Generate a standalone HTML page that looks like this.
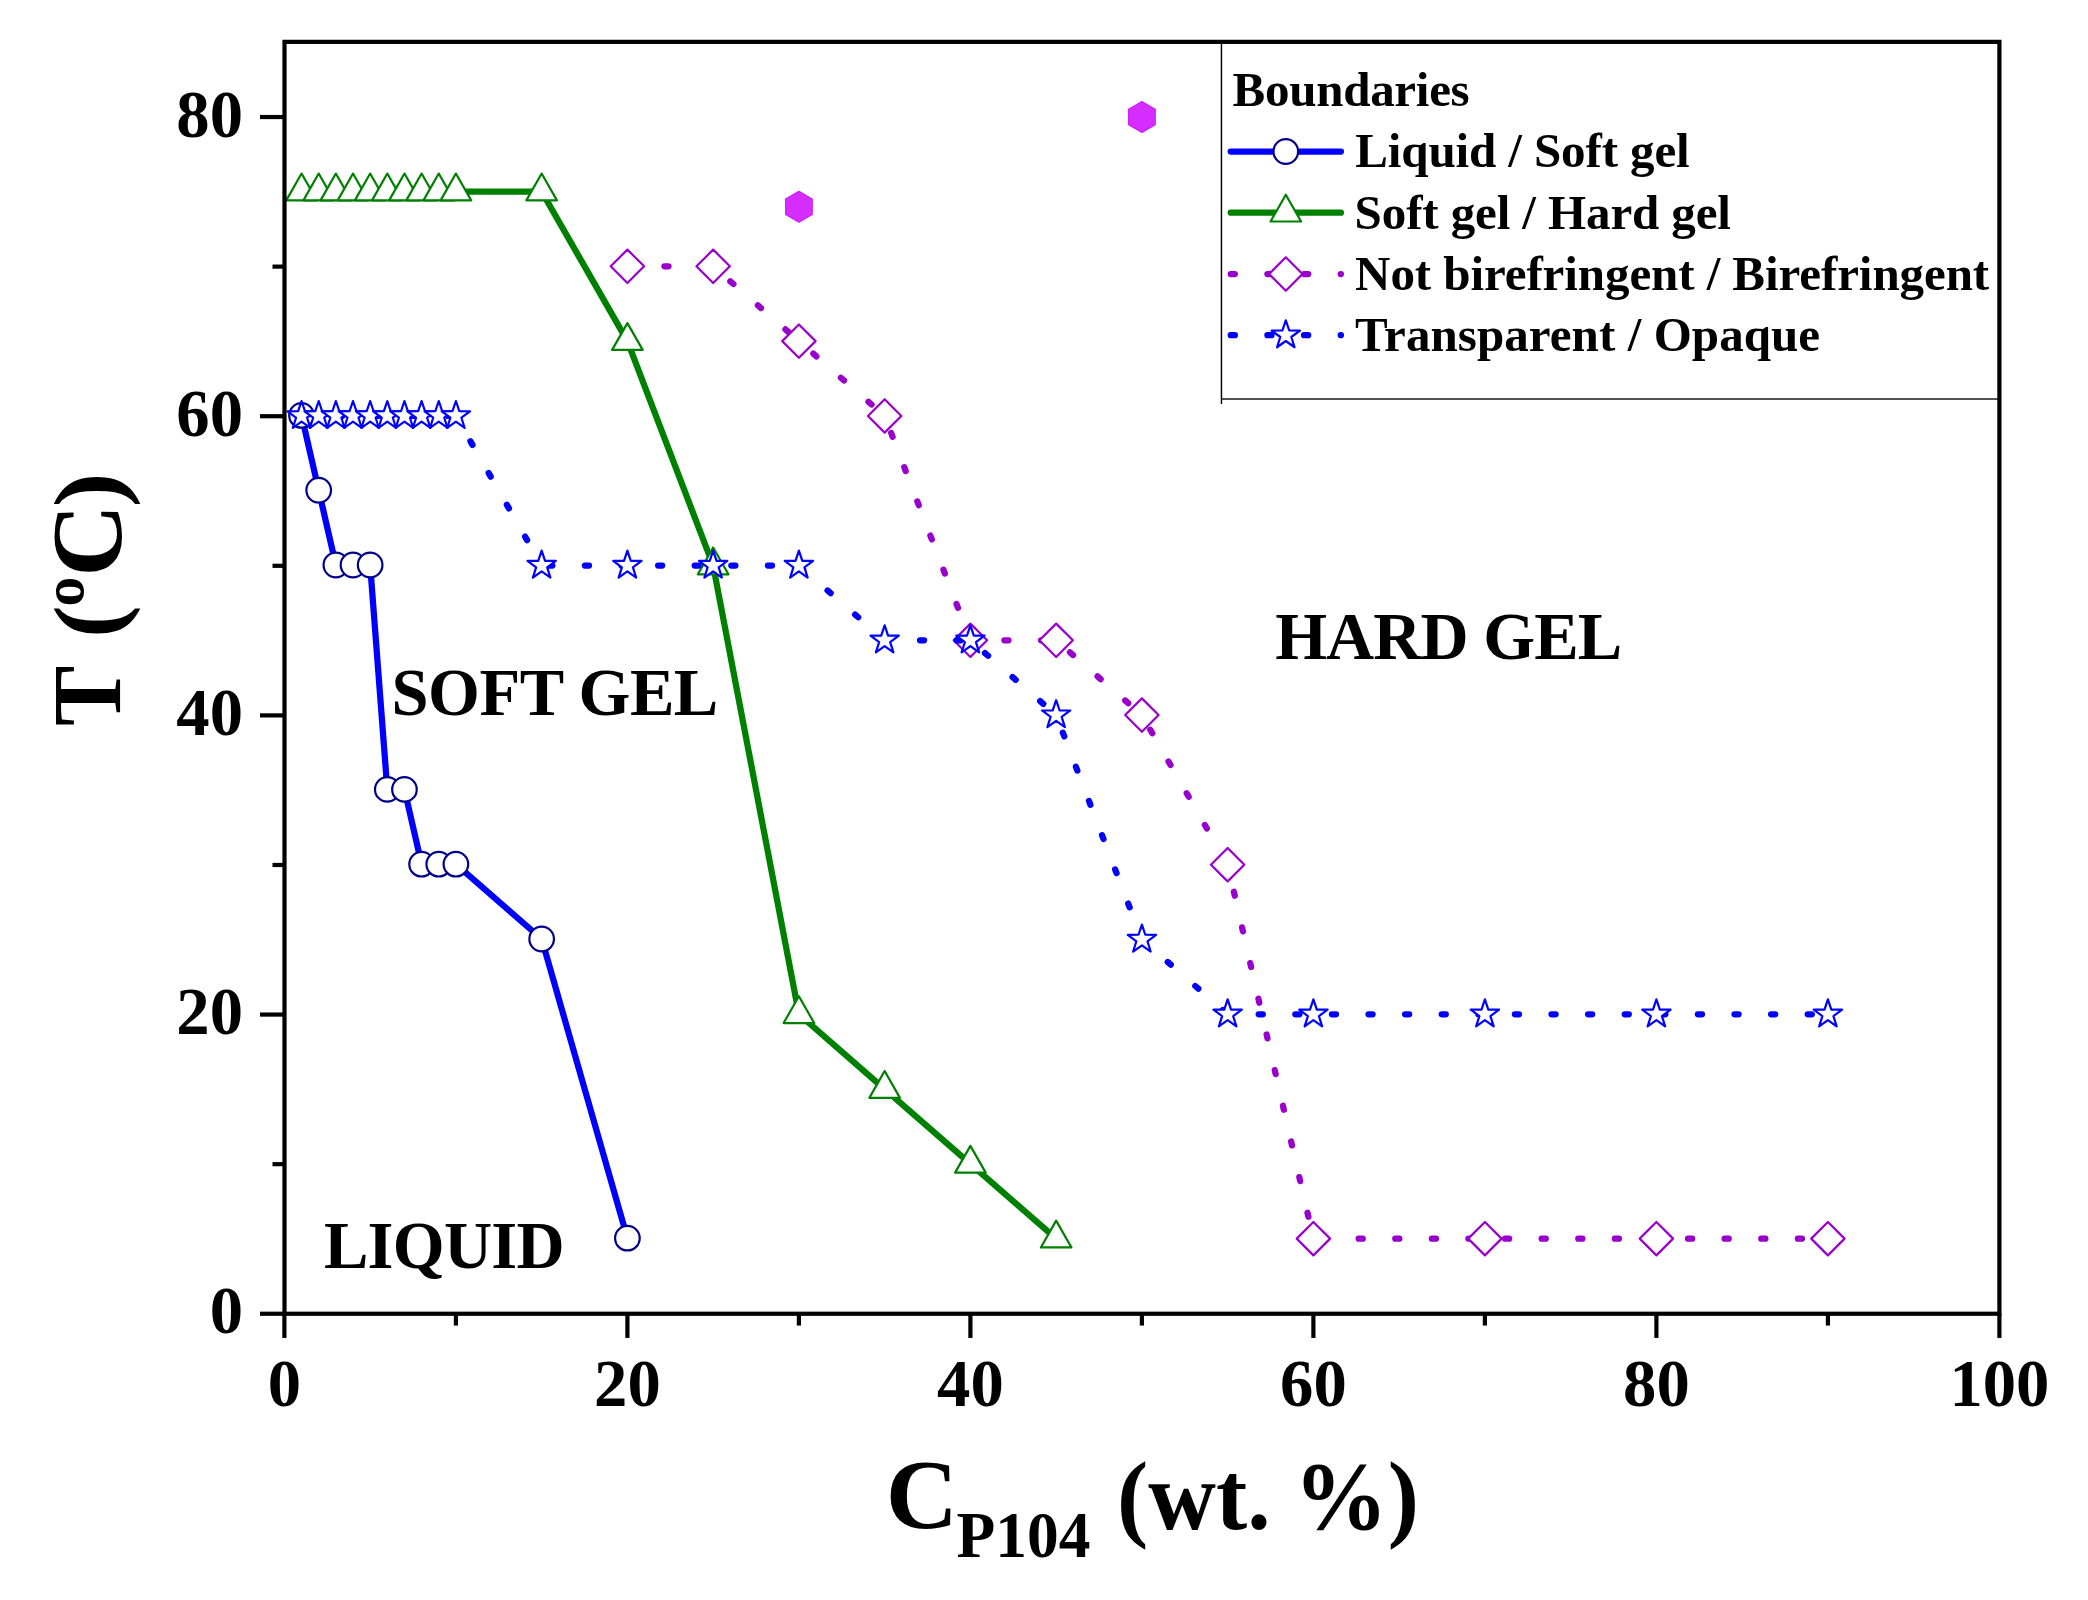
<!DOCTYPE html>
<html lang="en"><head><meta charset="utf-8"><title>Phase diagram P104</title>
<style>html,body{margin:0;padding:0;background:#fff}body{width:2088px;height:1600px;overflow:hidden}svg{display:block}text{font-family:"Liberation Serif",serif;font-weight:bold;fill:#000}</style></head><body>
<svg width="2088" height="1600" viewBox="0 0 2088 1600">
<rect width="2088" height="1600" fill="#fff"/>
<defs><clipPath id="pc"><rect x="284.5" y="41.85" width="1714.9" height="1271.9"/></clipPath></defs>
<g clip-path="url(#pc)" fill="none" stroke-linejoin="round">
<g transform="translate(0,-0.5)"><polyline points="301.55,415.91 318.7,490.71 335.85,565.5 353,565.5 370.15,565.5 387.3,789.89 404.45,789.89 421.6,864.68 438.75,864.68 455.9,864.68 541.65,939.48 627.4,1238.65" stroke="#0000ff" stroke-width="6.25"/>
<circle cx="301.55" cy="415.91" r="12.3" fill="#fff" stroke="#00008b" stroke-width="2.2"/>
<circle cx="318.7" cy="490.71" r="12.3" fill="#fff" stroke="#00008b" stroke-width="2.2"/>
<circle cx="335.85" cy="565.5" r="12.3" fill="#fff" stroke="#00008b" stroke-width="2.2"/>
<circle cx="353" cy="565.5" r="12.3" fill="#fff" stroke="#00008b" stroke-width="2.2"/>
<circle cx="370.15" cy="565.5" r="12.3" fill="#fff" stroke="#00008b" stroke-width="2.2"/>
<circle cx="387.3" cy="789.89" r="12.3" fill="#fff" stroke="#00008b" stroke-width="2.2"/>
<circle cx="404.45" cy="789.89" r="12.3" fill="#fff" stroke="#00008b" stroke-width="2.2"/>
<circle cx="421.6" cy="864.68" r="12.3" fill="#fff" stroke="#00008b" stroke-width="2.2"/>
<circle cx="438.75" cy="864.68" r="12.3" fill="#fff" stroke="#00008b" stroke-width="2.2"/>
<circle cx="455.9" cy="864.68" r="12.3" fill="#fff" stroke="#00008b" stroke-width="2.2"/>
<circle cx="541.65" cy="939.48" r="12.3" fill="#fff" stroke="#00008b" stroke-width="2.2"/>
<circle cx="627.4" cy="1238.65" r="12.3" fill="#fff" stroke="#00008b" stroke-width="2.2"/>
</g>
<polyline points="301.55,191.53 318.7,191.53 335.85,191.53 353,191.53 370.15,191.53 387.3,191.53 404.45,191.53 421.6,191.53 438.75,191.53 455.9,191.53 541.65,191.53 627.4,341.12 713.15,565.5 798.9,1014.27 884.65,1089.07 970.4,1163.86 1056.15,1238.65" stroke="#008000" stroke-width="6.25"/>
<polygon points="301.55,173.53 316.85,200.33 286.25,200.33" fill="#fff" stroke="#008000" stroke-width="2.2" stroke-linejoin="round"/>
<polygon points="318.7,173.53 334,200.33 303.4,200.33" fill="#fff" stroke="#008000" stroke-width="2.2" stroke-linejoin="round"/>
<polygon points="335.85,173.53 351.15,200.33 320.55,200.33" fill="#fff" stroke="#008000" stroke-width="2.2" stroke-linejoin="round"/>
<polygon points="353,173.53 368.3,200.33 337.7,200.33" fill="#fff" stroke="#008000" stroke-width="2.2" stroke-linejoin="round"/>
<polygon points="370.15,173.53 385.45,200.33 354.85,200.33" fill="#fff" stroke="#008000" stroke-width="2.2" stroke-linejoin="round"/>
<polygon points="387.3,173.53 402.6,200.33 372,200.33" fill="#fff" stroke="#008000" stroke-width="2.2" stroke-linejoin="round"/>
<polygon points="404.45,173.53 419.75,200.33 389.15,200.33" fill="#fff" stroke="#008000" stroke-width="2.2" stroke-linejoin="round"/>
<polygon points="421.6,173.53 436.9,200.33 406.3,200.33" fill="#fff" stroke="#008000" stroke-width="2.2" stroke-linejoin="round"/>
<polygon points="438.75,173.53 454.05,200.33 423.45,200.33" fill="#fff" stroke="#008000" stroke-width="2.2" stroke-linejoin="round"/>
<polygon points="455.9,173.53 471.2,200.33 440.6,200.33" fill="#fff" stroke="#008000" stroke-width="2.2" stroke-linejoin="round"/>
<polygon points="541.65,173.53 556.95,200.33 526.35,200.33" fill="#fff" stroke="#008000" stroke-width="2.2" stroke-linejoin="round"/>
<polygon points="627.4,323.12 642.7,349.92 612.1,349.92" fill="#fff" stroke="#008000" stroke-width="2.2" stroke-linejoin="round"/>
<polygon points="713.15,547.5 728.45,574.3 697.85,574.3" fill="#fff" stroke="#008000" stroke-width="2.2" stroke-linejoin="round"/>
<polygon points="798.9,996.27 814.2,1023.07 783.6,1023.07" fill="#fff" stroke="#008000" stroke-width="2.2" stroke-linejoin="round"/>
<polygon points="884.65,1071.07 899.95,1097.87 869.35,1097.87" fill="#fff" stroke="#008000" stroke-width="2.2" stroke-linejoin="round"/>
<polygon points="970.4,1145.86 985.7,1172.66 955.1,1172.66" fill="#fff" stroke="#008000" stroke-width="2.2" stroke-linejoin="round"/>
<polygon points="1056.15,1220.65 1071.45,1247.45 1040.85,1247.45" fill="#fff" stroke="#008000" stroke-width="2.2" stroke-linejoin="round"/>
<polyline points="627.4,266.32 713.15,266.32" stroke="#9900cc" stroke-width="6.25" stroke-dasharray="4.1 32.5" stroke-dashoffset="36.2" stroke-linecap="round"/>
<polyline points="713.15,266.32 798.9,341.12" stroke="#9900cc" stroke-width="6.25" stroke-dasharray="4.1 32.5" stroke-dashoffset="13.8" stroke-linecap="round"/>
<polyline points="798.9,341.12 884.65,415.91" stroke="#9900cc" stroke-width="6.25" stroke-dasharray="4.1 32.5" stroke-dashoffset="17.5" stroke-linecap="round"/>
<polyline points="884.65,415.91 970.4,640.3" stroke="#9900cc" stroke-width="6.25" stroke-dasharray="4.1 32.5" stroke-dashoffset="18.3" stroke-linecap="round"/>
<polyline points="970.4,640.3 1056.15,640.3" stroke="#9900cc" stroke-width="6.25" stroke-dasharray="4.1 32.5" stroke-dashoffset="2.6" stroke-linecap="round"/>
<polyline points="1056.15,640.3 1141.9,715.09" stroke="#9900cc" stroke-width="6.25" stroke-dasharray="4.1 32.5" stroke-dashoffset="18.25" stroke-linecap="round"/>
<polyline points="1141.9,715.09 1227.65,864.68" stroke="#9900cc" stroke-width="6.25" stroke-dasharray="4.1 32.5" stroke-dashoffset="19.75" stroke-linecap="round"/>
<polyline points="1227.65,864.68 1313.4,1238.65" stroke="#9900cc" stroke-width="6.25" stroke-dasharray="4.1 32.5" stroke-dashoffset="8.85" stroke-linecap="round"/>
<polyline points="1313.4,1238.65 1827.9,1238.65" stroke="#9900cc" stroke-width="6.25" stroke-dasharray="4.1 32.5" stroke-dashoffset="27.95" stroke-linecap="round"/>
<polygon points="627.4,249.62 644.1,266.32 627.4,283.02 610.7,266.32" fill="#fff" stroke="#9900cc" stroke-width="2.2" stroke-linejoin="round"/>
<polygon points="713.15,249.62 729.85,266.32 713.15,283.02 696.45,266.32" fill="#fff" stroke="#9900cc" stroke-width="2.2" stroke-linejoin="round"/>
<polygon points="798.9,324.42 815.6,341.12 798.9,357.82 782.2,341.12" fill="#fff" stroke="#9900cc" stroke-width="2.2" stroke-linejoin="round"/>
<polygon points="884.65,399.21 901.35,415.91 884.65,432.61 867.95,415.91" fill="#fff" stroke="#9900cc" stroke-width="2.2" stroke-linejoin="round"/>
<polygon points="970.4,623.6 987.1,640.3 970.4,657 953.7,640.3" fill="#fff" stroke="#9900cc" stroke-width="2.2" stroke-linejoin="round"/>
<polygon points="1056.15,623.6 1072.85,640.3 1056.15,657 1039.45,640.3" fill="#fff" stroke="#9900cc" stroke-width="2.2" stroke-linejoin="round"/>
<polygon points="1141.9,698.39 1158.6,715.09 1141.9,731.79 1125.2,715.09" fill="#fff" stroke="#9900cc" stroke-width="2.2" stroke-linejoin="round"/>
<polygon points="1227.65,847.98 1244.35,864.68 1227.65,881.38 1210.95,864.68" fill="#fff" stroke="#9900cc" stroke-width="2.2" stroke-linejoin="round"/>
<polygon points="1313.4,1221.95 1330.1,1238.65 1313.4,1255.36 1296.7,1238.65" fill="#fff" stroke="#9900cc" stroke-width="2.2" stroke-linejoin="round"/>
<polygon points="1484.9,1221.95 1501.6,1238.65 1484.9,1255.36 1468.2,1238.65" fill="#fff" stroke="#9900cc" stroke-width="2.2" stroke-linejoin="round"/>
<polygon points="1656.4,1221.95 1673.1,1238.65 1656.4,1255.36 1639.7,1238.65" fill="#fff" stroke="#9900cc" stroke-width="2.2" stroke-linejoin="round"/>
<polygon points="1827.9,1221.95 1844.6,1238.65 1827.9,1255.36 1811.2,1238.65" fill="#fff" stroke="#9900cc" stroke-width="2.2" stroke-linejoin="round"/>
<polyline points="301.55,415.91 455.9,415.91" stroke="#0000ff" stroke-width="6.25" stroke-dasharray="4.1 32.5" stroke-dashoffset="0" stroke-linecap="round"/>
<polyline points="455.9,415.91 541.65,565.5" stroke="#0000ff" stroke-width="6.25" stroke-dasharray="4.1 32.5" stroke-dashoffset="7.3" stroke-linecap="round"/>
<polyline points="541.65,565.5 798.9,565.5" stroke="#0000ff" stroke-width="6.25" stroke-dasharray="4.1 32.5" stroke-dashoffset="29.95" stroke-linecap="round"/>
<polyline points="798.9,565.5 884.65,640.3" stroke="#0000ff" stroke-width="6.25" stroke-dasharray="4.1 32.5" stroke-dashoffset="35.2" stroke-linecap="round"/>
<polyline points="884.65,640.3 970.4,640.3" stroke="#0000ff" stroke-width="6.25" stroke-dasharray="4.1 32.5" stroke-dashoffset="1.25" stroke-linecap="round"/>
<polyline points="970.4,640.3 1056.15,715.09" stroke="#0000ff" stroke-width="6.25" stroke-dasharray="4.1 32.5" stroke-dashoffset="17.2" stroke-linecap="round"/>
<polyline points="1056.15,715.09 1141.9,939.48" stroke="#0000ff" stroke-width="6.25" stroke-dasharray="4.1 32.5" stroke-dashoffset="17.85" stroke-linecap="round"/>
<polyline points="1141.9,939.48 1227.65,1014.27" stroke="#0000ff" stroke-width="6.25" stroke-dasharray="4.1 32.5" stroke-dashoffset="2.4" stroke-linecap="round"/>
<polyline points="1227.65,1014.27 1827.9,1014.27" stroke="#0000ff" stroke-width="6.25" stroke-dasharray="4.1 32.5" stroke-dashoffset="5.55" stroke-linecap="round"/>
<polygon points="301.55,401.01 304.97,411.21 315.72,411.31 307.08,417.71 310.31,427.96 301.55,421.72 292.79,427.96 296.02,417.71 287.38,411.31 298.13,411.21" fill="#fff" stroke="#0000ff" stroke-width="2.2" stroke-linejoin="round"/>
<polygon points="318.7,401.01 322.12,411.21 332.87,411.31 324.23,417.71 327.46,427.96 318.7,421.72 309.94,427.96 313.17,417.71 304.53,411.31 315.28,411.21" fill="#fff" stroke="#0000ff" stroke-width="2.2" stroke-linejoin="round"/>
<polygon points="335.85,401.01 339.27,411.21 350.02,411.31 341.38,417.71 344.61,427.96 335.85,421.72 327.09,427.96 330.32,417.71 321.68,411.31 332.43,411.21" fill="#fff" stroke="#0000ff" stroke-width="2.2" stroke-linejoin="round"/>
<polygon points="353,401.01 356.42,411.21 367.17,411.31 358.53,417.71 361.76,427.96 353,421.72 344.24,427.96 347.47,417.71 338.83,411.31 349.58,411.21" fill="#fff" stroke="#0000ff" stroke-width="2.2" stroke-linejoin="round"/>
<polygon points="370.15,401.01 373.57,411.21 384.32,411.31 375.68,417.71 378.91,427.96 370.15,421.72 361.39,427.96 364.62,417.71 355.98,411.31 366.73,411.21" fill="#fff" stroke="#0000ff" stroke-width="2.2" stroke-linejoin="round"/>
<polygon points="387.3,401.01 390.72,411.21 401.47,411.31 392.83,417.71 396.06,427.96 387.3,421.72 378.54,427.96 381.77,417.71 373.13,411.31 383.88,411.21" fill="#fff" stroke="#0000ff" stroke-width="2.2" stroke-linejoin="round"/>
<polygon points="404.45,401.01 407.87,411.21 418.62,411.31 409.98,417.71 413.21,427.96 404.45,421.72 395.69,427.96 398.92,417.71 390.28,411.31 401.03,411.21" fill="#fff" stroke="#0000ff" stroke-width="2.2" stroke-linejoin="round"/>
<polygon points="421.6,401.01 425.02,411.21 435.77,411.31 427.13,417.71 430.36,427.96 421.6,421.72 412.84,427.96 416.07,417.71 407.43,411.31 418.18,411.21" fill="#fff" stroke="#0000ff" stroke-width="2.2" stroke-linejoin="round"/>
<polygon points="438.75,401.01 442.17,411.21 452.92,411.31 444.28,417.71 447.51,427.96 438.75,421.72 429.99,427.96 433.22,417.71 424.58,411.31 435.33,411.21" fill="#fff" stroke="#0000ff" stroke-width="2.2" stroke-linejoin="round"/>
<polygon points="455.9,401.01 459.32,411.21 470.07,411.31 461.43,417.71 464.66,427.96 455.9,421.72 447.14,427.96 450.37,417.71 441.73,411.31 452.48,411.21" fill="#fff" stroke="#0000ff" stroke-width="2.2" stroke-linejoin="round"/>
<polygon points="541.65,550.6 545.07,560.8 555.82,560.9 547.18,567.3 550.41,577.55 541.65,571.31 532.89,577.55 536.12,567.3 527.48,560.9 538.23,560.8" fill="#fff" stroke="#0000ff" stroke-width="2.2" stroke-linejoin="round"/>
<polygon points="627.4,550.6 630.82,560.8 641.57,560.9 632.93,567.3 636.16,577.55 627.4,571.31 618.64,577.55 621.87,567.3 613.23,560.9 623.98,560.8" fill="#fff" stroke="#0000ff" stroke-width="2.2" stroke-linejoin="round"/>
<polygon points="713.15,550.6 716.57,560.8 727.32,560.9 718.68,567.3 721.91,577.55 713.15,571.31 704.39,577.55 707.62,567.3 698.98,560.9 709.73,560.8" fill="#fff" stroke="#0000ff" stroke-width="2.2" stroke-linejoin="round"/>
<polygon points="798.9,550.6 802.32,560.8 813.07,560.9 804.43,567.3 807.66,577.55 798.9,571.31 790.14,577.55 793.37,567.3 784.73,560.9 795.48,560.8" fill="#fff" stroke="#0000ff" stroke-width="2.2" stroke-linejoin="round"/>
<polygon points="884.65,625.4 888.07,635.59 898.82,635.69 890.18,642.09 893.41,652.35 884.65,646.11 875.89,652.35 879.12,642.09 870.48,635.69 881.23,635.59" fill="#fff" stroke="#0000ff" stroke-width="2.2" stroke-linejoin="round"/>
<polygon points="970.4,625.4 973.82,635.59 984.57,635.69 975.93,642.09 979.16,652.35 970.4,646.11 961.64,652.35 964.87,642.09 956.23,635.69 966.98,635.59" fill="#fff" stroke="#0000ff" stroke-width="2.2" stroke-linejoin="round"/>
<polygon points="1056.15,700.19 1059.57,710.39 1070.32,710.49 1061.68,716.89 1064.91,727.14 1056.15,720.9 1047.39,727.14 1050.62,716.89 1041.98,710.49 1052.73,710.39" fill="#fff" stroke="#0000ff" stroke-width="2.2" stroke-linejoin="round"/>
<polygon points="1141.9,924.58 1145.32,934.77 1156.07,934.87 1147.43,941.27 1150.66,951.53 1141.9,945.29 1133.14,951.53 1136.37,941.27 1127.73,934.87 1138.48,934.77" fill="#fff" stroke="#0000ff" stroke-width="2.2" stroke-linejoin="round"/>
<polygon points="1227.65,999.37 1231.07,1009.57 1241.82,1009.67 1233.18,1016.07 1236.41,1026.32 1227.65,1020.08 1218.89,1026.32 1222.12,1016.07 1213.48,1009.67 1224.23,1009.57" fill="#fff" stroke="#0000ff" stroke-width="2.2" stroke-linejoin="round"/>
<polygon points="1313.4,999.37 1316.82,1009.57 1327.57,1009.67 1318.93,1016.07 1322.16,1026.32 1313.4,1020.08 1304.64,1026.32 1307.87,1016.07 1299.23,1009.67 1309.98,1009.57" fill="#fff" stroke="#0000ff" stroke-width="2.2" stroke-linejoin="round"/>
<polygon points="1484.9,999.37 1488.32,1009.57 1499.07,1009.67 1490.43,1016.07 1493.66,1026.32 1484.9,1020.08 1476.14,1026.32 1479.37,1016.07 1470.73,1009.67 1481.48,1009.57" fill="#fff" stroke="#0000ff" stroke-width="2.2" stroke-linejoin="round"/>
<polygon points="1656.4,999.37 1659.82,1009.57 1670.57,1009.67 1661.93,1016.07 1665.16,1026.32 1656.4,1020.08 1647.64,1026.32 1650.87,1016.07 1642.23,1009.67 1652.98,1009.57" fill="#fff" stroke="#0000ff" stroke-width="2.2" stroke-linejoin="round"/>
<polygon points="1827.9,999.37 1831.32,1009.57 1842.07,1009.67 1833.43,1016.07 1836.66,1026.32 1827.9,1020.08 1819.14,1026.32 1822.37,1016.07 1813.73,1009.67 1824.48,1009.57" fill="#fff" stroke="#0000ff" stroke-width="2.2" stroke-linejoin="round"/>
<polygon points="798.9,191.43 812.15,199.08 812.15,214.38 798.9,222.03 785.65,214.38 785.65,199.08" fill="#d62dff" stroke="#cd22ff" stroke-width="1.4" stroke-linejoin="round"/>
<polygon points="1141.9,101.68 1155.15,109.33 1155.15,124.63 1141.9,132.28 1128.65,124.63 1128.65,109.33" fill="#d62dff" stroke="#cd22ff" stroke-width="1.4" stroke-linejoin="round"/>
</g>
<rect x="1221.6" y="41.85" width="775.9" height="357.35" fill="#fff"/>
<path d="M1221.45 41.85 V403.9" stroke="#000" stroke-width="1.45" fill="none"/>
<path d="M1221.45 399 H1998" stroke="#1a1a1a" stroke-width="1.7" fill="none"/>
<text x="1232.6" y="105.9" font-size="49" letter-spacing="-0.28">Boundaries</text>
<line x1="1230.7" y1="151.5" x2="1340.9" y2="151.5" stroke="#0000ff" stroke-width="6.25" stroke-linecap="round"/>
<circle cx="1285.8" cy="151.5" r="12.3" fill="#fff" stroke="#00008b" stroke-width="2.2"/>
<line x1="1230.7" y1="212.7" x2="1340.9" y2="212.7" stroke="#008000" stroke-width="6.25" stroke-linecap="round"/>
<polygon points="1285.8,194.7 1301.1,221.5 1270.5,221.5" fill="#fff" stroke="#008000" stroke-width="2.2" stroke-linejoin="round"/>
<line x1="1230.7" y1="274" x2="1340.9" y2="274" stroke="#9900cc" stroke-width="6.25" stroke-linecap="round" stroke-dasharray="4.17 32.5"/>
<polygon points="1285.8,257.3 1302.5,274 1285.8,290.7 1269.1,274" fill="#fff" stroke="#9900cc" stroke-width="2.2" stroke-linejoin="round"/>
<line x1="1230.7" y1="335.2" x2="1340.9" y2="335.2" stroke="#0000ff" stroke-width="6.25" stroke-linecap="round" stroke-dasharray="4.17 32.5"/>
<polygon points="1285.8,320.3 1289.22,330.5 1299.97,330.6 1291.33,337 1294.56,347.25 1285.8,341.01 1277.04,347.25 1280.27,337 1271.63,330.6 1282.38,330.5" fill="#fff" stroke="#0000ff" stroke-width="2.2" stroke-linejoin="round"/>
<text x="1355.2" y="167.3" font-size="49" letter-spacing="-0.11">Liquid / Soft gel</text>
<text x="1354.6" y="228.5" font-size="49" letter-spacing="-0.11">Soft gel / Hard gel</text>
<text x="1355.1" y="289.8" font-size="49" letter-spacing="-0.08">Not birefringent / Birefringent</text>
<text x="1355" y="351" font-size="49" letter-spacing="0.07">Transparent / Opaque</text>
<g stroke="#000" stroke-width="4.2" fill="none" stroke-linecap="butt">
<rect x="284.5" y="41.85" width="1714.9" height="1271.9"/>
<line x1="284.4" y1="1313.75" x2="284.4" y2="1337.95"/>
<line x1="455.9" y1="1313.75" x2="455.9" y2="1325.55"/>
<line x1="627.4" y1="1313.75" x2="627.4" y2="1337.95"/>
<line x1="798.9" y1="1313.75" x2="798.9" y2="1325.55"/>
<line x1="970.4" y1="1313.75" x2="970.4" y2="1337.95"/>
<line x1="1141.9" y1="1313.75" x2="1141.9" y2="1325.55"/>
<line x1="1313.4" y1="1313.75" x2="1313.4" y2="1337.95"/>
<line x1="1484.9" y1="1313.75" x2="1484.9" y2="1325.55"/>
<line x1="1656.4" y1="1313.75" x2="1656.4" y2="1337.95"/>
<line x1="1827.9" y1="1313.75" x2="1827.9" y2="1325.55"/>
<line x1="1999.4" y1="1313.75" x2="1999.4" y2="1337.95"/>
<line x1="284.5" y1="1313.75" x2="260" y2="1313.75"/>
<line x1="284.5" y1="1164.16" x2="272.5" y2="1164.16"/>
<line x1="284.5" y1="1014.57" x2="260" y2="1014.57"/>
<line x1="284.5" y1="864.98" x2="272.5" y2="864.98"/>
<line x1="284.5" y1="715.39" x2="260" y2="715.39"/>
<line x1="284.5" y1="565.8" x2="272.5" y2="565.8"/>
<line x1="284.5" y1="416.21" x2="260" y2="416.21"/>
<line x1="284.5" y1="266.62" x2="272.5" y2="266.62"/>
<line x1="284.5" y1="117.03" x2="260" y2="117.03"/>
</g>
<text x="284.4" y="1406" font-size="66.67" text-anchor="middle">0</text>
<text x="627.4" y="1406" font-size="66.67" text-anchor="middle">20</text>
<text x="970.4" y="1406" font-size="66.67" text-anchor="middle">40</text>
<text x="1313.4" y="1406" font-size="66.67" text-anchor="middle">60</text>
<text x="1656.4" y="1406" font-size="66.67" text-anchor="middle">80</text>
<text x="1999.4" y="1406" font-size="66.67" text-anchor="middle">100</text>
<text x="243" y="1333.35" font-size="66.67" text-anchor="end">0</text>
<text x="243" y="1034.17" font-size="66.67" text-anchor="end">20</text>
<text x="243" y="734.99" font-size="66.67" text-anchor="end">40</text>
<text x="243" y="435.81" font-size="66.67" text-anchor="end">60</text>
<text x="243" y="136.63" font-size="66.67" text-anchor="end">80</text>
<text x="1275.2" y="658.5" font-size="66.67" letter-spacing="-0.96">HARD GEL</text>
<text x="391.5" y="715.1" font-size="66.67" letter-spacing="-0.5">SOFT GEL</text>
<text x="323.9" y="1267.6" font-size="66.67" letter-spacing="-0.74">LIQUID</text>
<text x="885.8" y="1528" font-size="100">C</text>
<text transform="translate(956.6,1556.9) scale(0.957,1)" font-size="66.3">P104</text>
<text transform="translate(1117.1,1528.6) scale(0.966,1)" font-size="97">(wt. %)</text>
<text transform="translate(120,726) rotate(-90) scale(0.923,1)" font-size="98">T</text>
<text transform="translate(120,637.7) rotate(-90) scale(1.026,1)" font-size="95">(</text>
<text transform="translate(120,606.8) rotate(-90) scale(0.95,1)" font-size="97">º</text>
<text transform="translate(120,576.7) rotate(-90) scale(1.023,1)" font-size="98.5">C</text>
<text transform="translate(120,507.2) rotate(-90) scale(1.1,1)" font-size="95">)</text>
</svg></body></html>
